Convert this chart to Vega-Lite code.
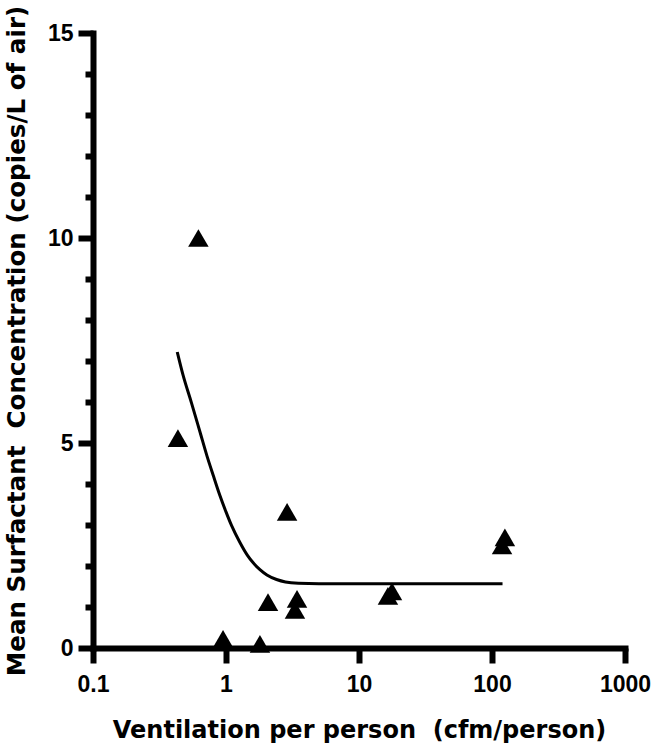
{
  "$schema": "https://vega.github.io/schema/vega-lite/v6.json",
  "autosize": {"type": "none"},
  "width": 532,
  "height": 615,
  "padding": {"left": 93, "top": 33, "right": 35, "bottom": 102},
  "background": "white",
  "config": {
    "view": {"stroke": null},
    "font": "Liberation Sans",
    "axis": {
      "domainColor": "black", "domainWidth": 6, "tickColor": "black", "tickWidth": 6,
      "labelFont": "Liberation Sans", "labelFontWeight": "bold", "labelColor": "black",
      "titleFont": "DejaVu Sans", "titleFontWeight": "bold", "titleColor": "black",
      "grid": false, "domainCap": "square", "labelFlush": false
    }
  },
  "datasets": {
    "points": [
      {"vent": 0.62, "conc": 10.0},
      {"vent": 0.435, "conc": 5.12},
      {"vent": 2.88, "conc": 3.32},
      {"vent": 2.07, "conc": 1.12},
      {"vent": 3.42, "conc": 1.2},
      {"vent": 3.3, "conc": 0.93},
      {"vent": 0.95, "conc": 0.22},
      {"vent": 1.8, "conc": 0.1},
      {"vent": 16.5, "conc": 1.27},
      {"vent": 17.7, "conc": 1.38},
      {"vent": 119, "conc": 2.5},
      {"vent": 125, "conc": 2.7}
    ],
    "curve": [
      {"vent": 0.43, "conc": 7.22},
      {"vent": 0.475, "conc": 6.66},
      {"vent": 0.55, "conc": 5.98},
      {"vent": 0.64, "conc": 5.25},
      {"vent": 0.72, "conc": 4.68},
      {"vent": 0.8, "conc": 4.22},
      {"vent": 0.9, "conc": 3.72},
      {"vent": 1.0, "conc": 3.32},
      {"vent": 1.1, "conc": 2.99},
      {"vent": 1.27, "conc": 2.58},
      {"vent": 1.45, "conc": 2.26},
      {"vent": 1.59, "conc": 2.09},
      {"vent": 1.8, "conc": 1.91},
      {"vent": 2.03, "conc": 1.78},
      {"vent": 2.4, "conc": 1.67},
      {"vent": 2.8, "conc": 1.61},
      {"vent": 3.5, "conc": 1.58},
      {"vent": 5, "conc": 1.57},
      {"vent": 10, "conc": 1.57},
      {"vent": 30, "conc": 1.57},
      {"vent": 120, "conc": 1.57}
    ]
  },
  "layer": [
    {
      "data": {"name": "curve"},
      "mark": {"type": "line", "color": "black", "strokeWidth": 3, "interpolate": "monotone"},
      "encoding": {
        "x": {"field": "vent", "type": "quantitative"},
        "y": {"field": "conc", "type": "quantitative"}
      }
    },
    {
      "data": {"name": "points"},
      "mark": {"type": "point", "shape": "triangle-up", "filled": true, "color": "black", "opacity": 1, "size": 420, "clip": false},
      "encoding": {
        "x": {
          "field": "vent", "type": "quantitative",
          "scale": {"type": "log", "domain": [0.1, 1000], "nice": false},
          "axis": {
            "title": "Ventilation per person\u00a0 (cfm/person)",
            "values": [0.1, 1, 10, 100, 1000],
            "labelExpr": "datum.value == 0.1 ? '0.1' : format(datum.value, 'd')",
            "tickSize": 15, "labelFontSize": 23, "labelPadding": 10,
            "titleFontSize": 24, "titlePadding": 22
          }
        },
        "y": {
          "field": "conc", "type": "quantitative",
          "scale": {"domain": [0, 15], "nice": false, "zero": false},
          "axis": {
            "title": "Mean Surfactant\u00a0 Concentration (copies/L of air)",
            "values": [0, 1, 2, 3, 4, 5, 6, 7, 8, 9, 10, 11, 12, 13, 14, 15],
            "labelExpr": "datum.value % 5 === 0 ? datum.label : ''",
            "tickSize": {"condition": {"test": "datum.value % 5 === 0", "value": 15}, "value": 8},
            "labelFontSize": 23, "labelPadding": 5,
            "titleFontSize": 24.6, "titlePadding": 18
          }
        }
      }
    }
  ]
}
